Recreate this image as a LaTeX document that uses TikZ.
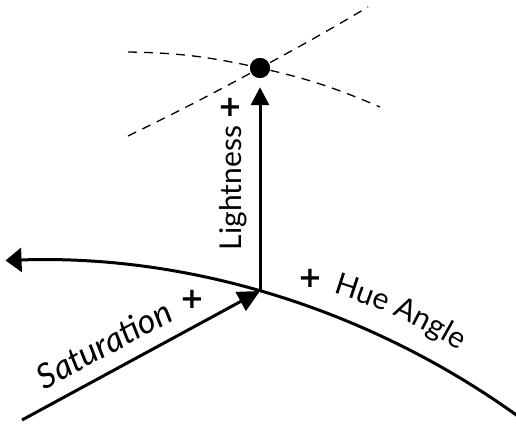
\documentclass[tikz,border=0pt]{standalone}
\usepackage{fontspec}
\setmainfont{Lato}
\newfontfamily\plusfont{DejaVu Sans}
\usetikzlibrary{arrows.meta,decorations.text}
\newcommand\lblsize{\fontsize{30}{32}\selectfont}
\begin{document}
\begin{tikzpicture}[x=1pt,y=1pt,
  axis/.style={line width=3pt},
  guide/.style={dash pattern=on 9pt off 7pt, line width=1.3pt},
  lbl/.style={font=\lblsize, inner sep=0pt},
  plus/.style={font=\plusfont\fontsize{29}{30}\selectfont\bfseries, inner sep=0pt}]
\useasboundingbox (0,0) rectangle (516,426);
\coordinate (O) at (260,135);
\coordinate (S0) at (22,6);
\coordinate (C) at (34.4,-661);
\coordinate (l1a) at (128,374);
\coordinate (l1b) at (380,319);
\coordinate (l2a) at (128,290);
\coordinate (l2b) at (368,419);
\coordinate (hs) at (333,133);
\coordinate (he) at (500,52);
\node[circle, fill, inner sep=0pt, minimum size=20pt] (dot) at (260,358) {};
% dashed guides
\draw[guide] (l1a) to[out=-1,in=167.5] (dot.center) to[out=-12.5,in=157] (l1b);
\draw[guide] (l2a) to[out=26,in=208.4] (dot.center) to[out=28.4,in=210.6] (l2b);
\node[circle, fill, inner sep=0pt, minimum size=20pt] at (dot) {};
% hue curve
\draw[axis, {Triangle[length=16pt,width=24pt]}-] ([shift={(92:827)}]C) arc[start angle=92, end angle=54.3, radius=827];
% axes
\draw[axis, -{Triangle[length=18pt,width=18pt]}, shorten >=9pt] (O) -- (dot.south);
\draw[axis, -{Triangle[length=22pt,width=21pt]}] (S0) -- (O);
% labels
\node[lbl, rotate=90] (light) at (233,238) {Lightness};
\node[plus] (lp) at (230,319) {+};
\node[lbl, rotate=28.5, font=\fontsize{34}{36}\selectfont\itshape] (sat) at (104,82) {Saturation};
\node[plus] (sp) at (192,127) {+};
\path[decorate, decoration={text along path, text align=left,
  text={|\lblsize|Hue Angle}}] (hs) to[out=-17,in=150] (he);
\node[plus] (hp) at (310,148) {+};
\end{tikzpicture}
\end{document}
